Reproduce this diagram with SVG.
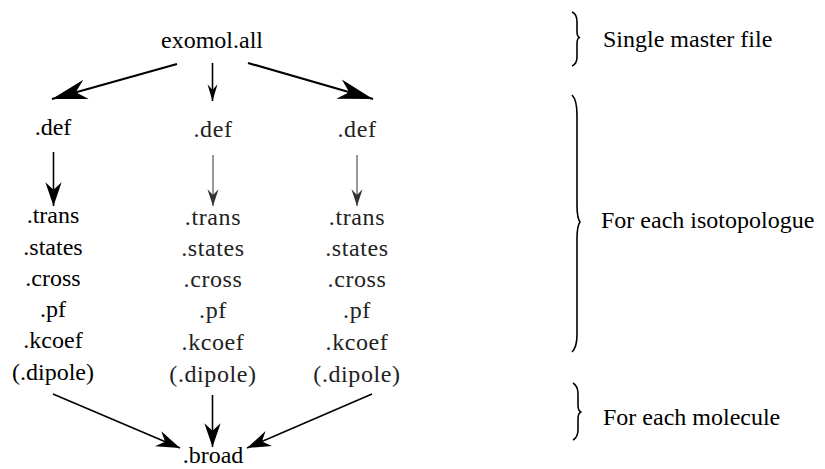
<svg xmlns="http://www.w3.org/2000/svg" width="825" height="469" viewBox="0 0 825 469" font-family="'Liberation Serif', 'Times New Roman', Times, serif">
<style>
text{font-size:24px;fill:#000}
.c{text-anchor:middle}
.g{fill:#222;letter-spacing:0.6px}
.ln{stroke:#000;fill:none}
.gl{stroke:#555;fill:none;stroke-width:1.2}
.br{stroke:#000;fill:none;stroke-width:1.6;stroke-linejoin:round}
</style>
<defs>
<marker id="big" markerUnits="userSpaceOnUse" markerWidth="40" markerHeight="30" refX="0" refY="0" viewBox="-32 -12 34 24" orient="auto" overflow="visible"><path d="M0,0 L-30,-8.5 L-21,0 L-30,8.5 Z" fill="#000"/></marker>
<marker id="med" markerUnits="userSpaceOnUse" markerWidth="30" markerHeight="20" refX="0" refY="0" viewBox="-22 -8 24 16" orient="auto" overflow="visible"><path d="M0,0 L-19,-6.5 L-13,0 L-19,6.5 Z" fill="#000"/></marker>
<marker id="sm" markerUnits="userSpaceOnUse" markerWidth="20" markerHeight="14" refX="0" refY="0" viewBox="-16 -6 18 12" orient="auto" overflow="visible"><path d="M0,0 L-15,-4.5 L-10,0 L-15,4.5 Z" fill="#000"/></marker>
<marker id="smg" markerUnits="userSpaceOnUse" markerWidth="20" markerHeight="14" refX="0" refY="0" viewBox="-16 -6 18 12" orient="auto" overflow="visible"><path d="M0,0 L-15,-5 L-10,0 L-15,5 Z" fill="#333"/></marker>
</defs>

<g id="connectors">
<line class="ln" x1="177" y1="64" x2="52" y2="99" stroke-width="2.2" marker-end="url(#big)"/>
<line class="ln" x1="212.5" y1="63" x2="212.5" y2="101" stroke-width="1.6" marker-end="url(#sm)"/>
<line class="ln" x1="248" y1="63" x2="373" y2="99" stroke-width="2.2" marker-end="url(#big)"/>
<line class="ln" x1="53.5" y1="152" x2="53.5" y2="206" stroke-width="1.6" marker-end="url(#med)"/>
<line class="gl" x1="213" y1="155" x2="213" y2="206" marker-end="url(#smg)"/>
<line class="gl" x1="357" y1="155" x2="357" y2="206" marker-end="url(#smg)"/>
<line class="ln" x1="53" y1="394" x2="180" y2="448" stroke-width="1.6" marker-end="url(#med)"/>
<line class="ln" x1="212.5" y1="395" x2="212.5" y2="447" stroke-width="1.6" marker-end="url(#med)"/>
<line class="ln" x1="372" y1="394" x2="247" y2="448" stroke-width="1.6" marker-end="url(#med)"/>
</g>

<g id="n-exomol"><text class="c" x="212" y="48">exomol.all</text></g>

<g id="col1">
<text class="c" x="53" y="135">.def</text>
<text class="c" x="53" y="223">.trans</text>
<text class="c" x="53" y="255">.states</text>
<text class="c" x="53" y="286">.cross</text>
<text class="c" x="53" y="317">.pf</text>
<text class="c" x="53" y="348">.kcoef</text>
<text class="c" x="53" y="380">(.dipole)</text>
</g>

<g id="col2">
<text class="c g" x="213" y="137">.def</text>
<text class="c g" x="213" y="225">.trans</text>
<text class="c g" x="213" y="256">.states</text>
<text class="c g" x="213" y="287">.cross</text>
<text class="c g" x="213" y="318">.pf</text>
<text class="c g" x="213" y="350">.kcoef</text>
<text class="c g" x="213" y="382">(.dipole)</text>
</g>

<g id="col3">
<text class="c g" x="357" y="137">.def</text>
<text class="c g" x="357" y="225">.trans</text>
<text class="c g" x="357" y="256">.states</text>
<text class="c g" x="357" y="287">.cross</text>
<text class="c g" x="357" y="318">.pf</text>
<text class="c g" x="357" y="350">.kcoef</text>
<text class="c g" x="357" y="382">(.dipole)</text>
</g>

<g id="n-broad"><text class="c" x="213" y="463">.broad</text></g>

<g id="brace-master">
<path class="br" d="M572,12 Q577,14 577,22 L577,31 Q577,37 579.5,37.5 Q577,38 577,44 L577,57 Q577,64 572,66"/>
<text x="603" y="47">Single master file</text>
</g>
<g id="brace-iso">
<path class="br" d="M572,95 Q577,100 577,115 L577,205 Q577,218 580,222 Q577,226 577,239 L577,335 Q577,347 572,352"/>
<text x="601" y="228">For each isotopologue</text>
</g>
<g id="brace-mol">
<path class="br" d="M573,383 Q578,386 578,394 L578,405 Q578,411 581,412 Q578,413 578,419 L578,430 Q578,437 573,440"/>
<text x="603" y="425">For each molecule</text>
</g>
</svg>
